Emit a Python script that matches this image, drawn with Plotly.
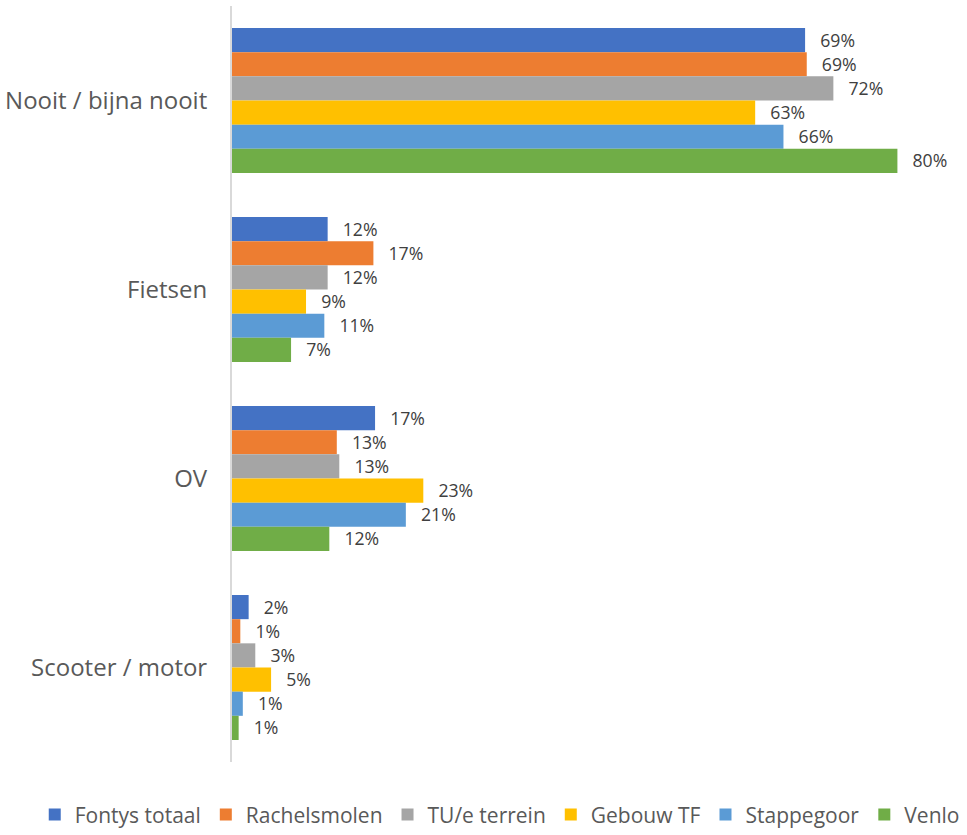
import plotly.graph_objects as go

categories = ["Nooit / bijna nooit", "Fietsen", "OV", "Scooter / motor"]
series_names = ["Fontys totaal", "Rachelsmolen", "TU/e terrein", "Gebouw TF", "Stappegoor", "Venlo"]
colors = ["#4472C4", "#ED7D31", "#A5A5A5", "#FFC000", "#5B9BD5", "#70AD47"]

# bar lengths (percent)
fontys_totaal = [68.9, 11.5, 17.2, 2.0]
rachelsmolen = [69.1, 17.0, 12.6, 1.0]
tue_terrein = [72.3, 11.5, 12.9, 2.8]
gebouw_tf = [62.9, 8.9, 23.0, 4.7]
stappegoor = [66.3, 11.1, 20.9, 1.3]
venlo = [80.0, 7.1, 11.7, 0.8]

# data labels as printed
labels_fontys = ["69%", "12%", "17%", "2%"]
labels_rachelsmolen = ["69%", "17%", "13%", "1%"]
labels_tue = ["72%", "12%", "13%", "3%"]
labels_gebouw = ["63%", "9%", "23%", "5%"]
labels_stappegoor = ["66%", "11%", "21%", "1%"]
labels_venlo = ["80%", "7%", "12%", "1%"]

values = [fontys_totaal, rachelsmolen, tue_terrein, gebouw_tf, stappegoor, venlo]
labels = [labels_fontys, labels_rachelsmolen, labels_tue, labels_gebouw, labels_stappegoor, labels_venlo]

FONT = "Open Sans, sans-serif"
PAD = "\u00a0\u00a0\u2009"

fig = go.Figure()
for name, col, vals, labs in zip(series_names, colors, values, labels):
    fig.add_trace(go.Bar(
        name=name, y=categories, x=vals, orientation="h",
        marker=dict(color=col, line=dict(width=0)),
        text=labs, texttemplate=PAD + "%{text}",
        textposition="outside", cliponaxis=False,
        textfont=dict(family=FONT, size=19, color="#404040"),
        hoverinfo="skip",
    ))

fig.update_layout(
    barmode="group",
    bargap=0.233,
    bargroupgap=0,
    width=967, height=835,
    margin=dict(l=232, r=28, t=6, b=73, autoexpand=False),
    plot_bgcolor="white", paper_bgcolor="white",
    font=dict(family=FONT, color="#595959"),
    showlegend=True,
    legend=dict(
        orientation="h", x=-0.279, xanchor="left", y=-0.070, yanchor="middle",
        font=dict(family=FONT, size=21, color="#595959"),
        traceorder="normal", itemwidth=30,
    ),
    xaxis=dict(range=[0, 85], showgrid=False, zeroline=False, showticklabels=False,
               showline=False, ticks=""),
    yaxis=dict(autorange="reversed", showline=True, linecolor="#D9D9D9", linewidth=2,
               ticks="", tickfont=dict(family=FONT, size=24, color="#595959"),
               ticklabelstandoff=18, showgrid=False),
)

fig.write_html("out.html", config={"displayModeBar": False},
               post_script="document.body.style.margin='0';")
